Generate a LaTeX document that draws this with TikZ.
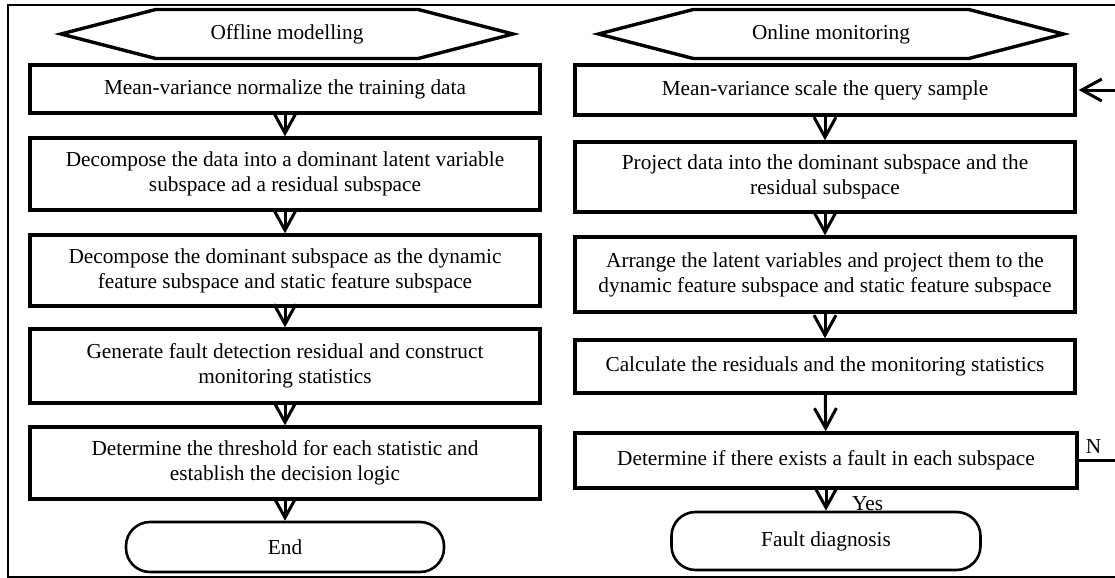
\documentclass[tikz,border=0pt]{standalone}
\usepackage{fontspec}
\setmainfont{Liberation Serif}
\usetikzlibrary{shapes,arrows.meta,positioning}

\begin{document}
\begin{tikzpicture}[x=0.5pt, y=-0.5pt,
        every node/.style={font=\fontsize{10.65}{12.5}\selectfont},
        box/.style={draw, line width=1.7pt, minimum width=255pt, align=center, inner sep=0pt},
        hexa/.style={draw, line width=1.7pt, signal, signal to=west and east, signal pointer angle=29, minimum width=226pt, minimum height=24.5pt},
        term/.style={draw, line width=1.3pt, rounded corners=12pt, minimum height=25pt},
        flow/.style={line width=1.5pt, -{Straight Barb[length=10pt,width=11pt]}}]
        \useasboundingbox (0,0) rectangle (1115,578);
        \draw[line width=1pt] (8,5) rectangle (1140,577);

        % Offline modelling
        \node[hexa] (off) at (287,34) {Offline modelling};
        \node[box, minimum height=24pt] (o1) at (285,89) {Mean-variance normalize the training data};
        \node[box, minimum height=36pt] (o2) at (285,174) {Decompose the data into a dominant latent variable\\subspace ad a residual subspace};
        \node[box, minimum height=35.5pt] (o3) at (285,270.5) {Decompose the dominant subspace as the dynamic\\feature subspace and static feature subspace};
        \node[box, minimum height=37pt] (o4) at (285,366) {Generate fault detection residual and construct\\monitoring statistics};
        \node[box, minimum height=36pt] (o5) at (285,463) {Determine the threshold for each statistic and\\establish the decision logic};
        \node[term, minimum width=159pt] (end) at (285,547) {End};

        \draw[flow] (o1) -- (o2);
        \draw[flow] (o2) -- (o3);
        \draw[flow] (o3) -- (o4);
        \draw[flow] (o4) -- (o5);
        \draw[flow] (o5) -- (end);

        % Online monitoring
        \node[hexa, minimum width=232.5pt] (on) at (831,34) {Online monitoring};
        \node[box, minimum width=250pt, minimum height=25pt] (n1) at (825,90) {Mean-variance scale the query sample};
        \node[box, minimum width=250pt, minimum height=35pt] (n2) at (825,177) {Project data into the dominant subspace and the\\residual subspace};
        \node[box, minimum width=250pt, minimum height=37.5pt] (n3) at (825,274.5) {Arrange the latent variables and project them to the\\dynamic feature subspace and static feature subspace};
        \node[box, minimum width=250pt, minimum height=26.5pt] (n4) at (825,366.5) {Calculate the residuals and the monitoring statistics};
        \node[box, minimum width=251pt, minimum height=27.5pt] (n5) at (826,460.5) {Determine if there exists a fault in each subspace};
        \node[term, minimum width=154.5pt, minimum height=29pt] (fd) at (826,541) {Fault diagnosis};

        \draw[flow] (n1) -- (n2);
        \draw[flow] (n2) -- (n3);
        \draw[flow] (n3) -- (n4);
        \draw[flow] (n4) -- (n5);
        \draw[flow] (n5) -- node[anchor=west, xshift=9pt, pos=0.65] (yes) {Yes} (fd);

        % back to the next sample
        \node[anchor=south west] (nlab) at (n5.east) {N};
        \draw[flow, shorten >=1pt] (n5.east) -- ++(60,0) |- (n1.east);
    \end{tikzpicture}
\end{document}
